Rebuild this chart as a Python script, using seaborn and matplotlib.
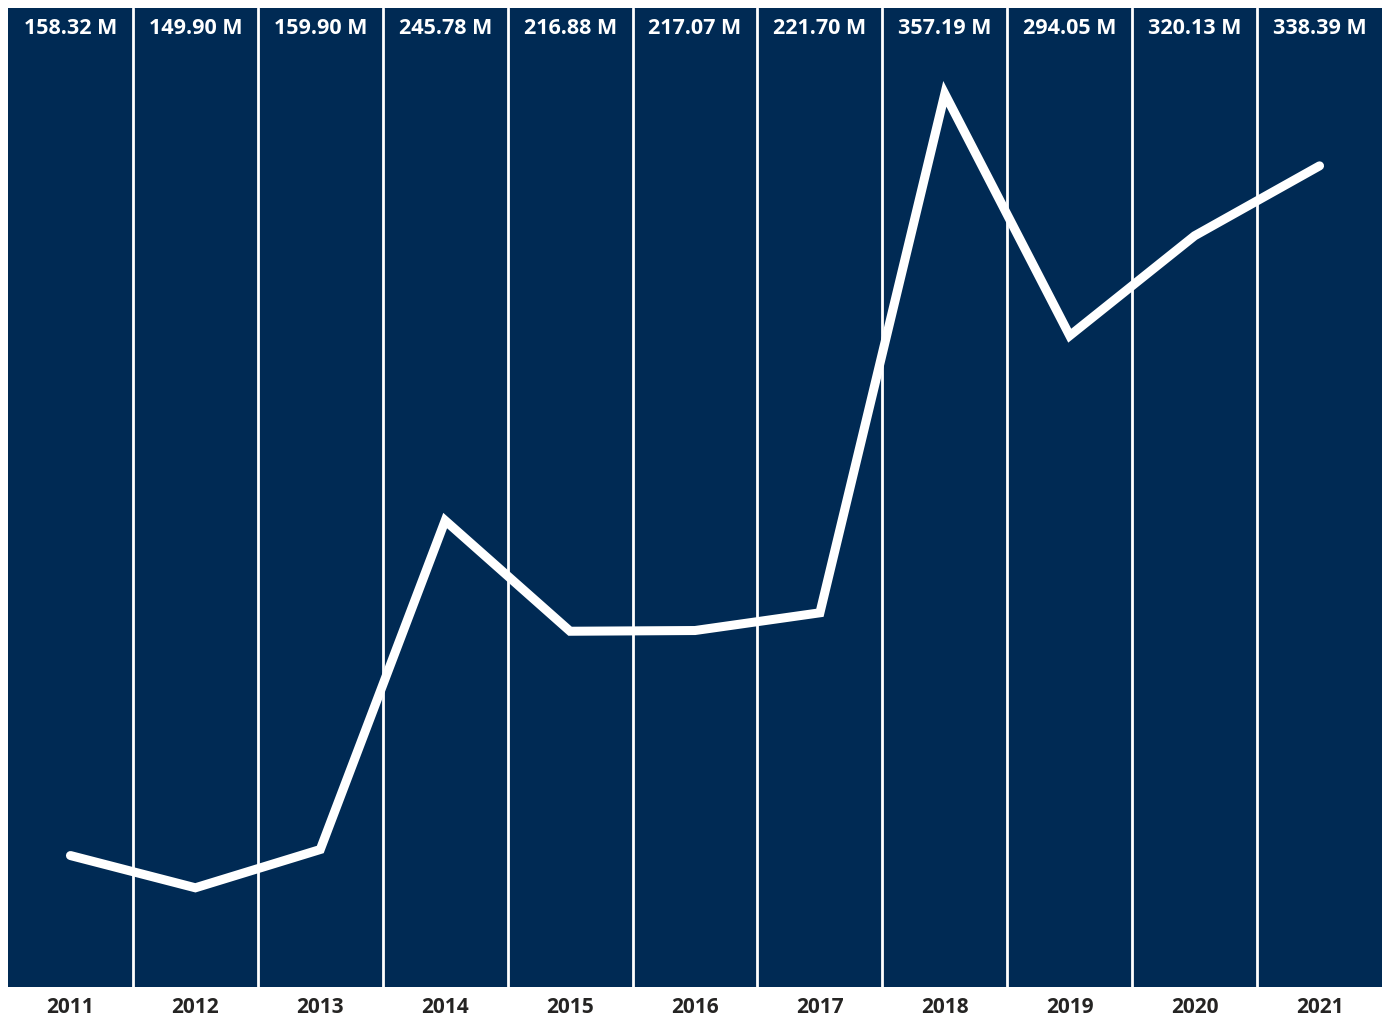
import matplotlib.pyplot as plt
import seaborn as sns
import pandas as pd

anos = ["2011", "2012", "2013", "2014", "2015", "2016", "2017", "2018", "2019", "2020", "2021"]
valores = [158.32, 149.90, 159.90, 245.78, 216.88, 217.07, 221.70, 357.19, 294.05, 320.13, 338.39]

df = pd.DataFrame({"Ano": anos, "Valor": valores})

navy = "#002A54"

sns.set_theme(style="white")
plt.rcParams["font.family"] = ["Open Sans", "DejaVu Sans"]

fig = plt.figure(figsize=(13.89, 10.19), dpi=100)
ax = fig.add_axes([8 / 1389, 32 / 1019, 1374 / 1389, 979 / 1019])
ax.set_facecolor(navy)

sns.lineplot(data=df, x="Ano", y="Valor", color="white", linewidth=6.5,
             solid_capstyle="round", solid_joinstyle="miter", ax=ax)

ax.set_xlim(-0.5, len(anos) - 0.5)
ax.set_ylim(124.0, 379.6)

# separadores brancos entre as colunas
for i in range(len(anos) - 1):
    ax.axvline(i + 0.5, color="white", linewidth=2.0, zorder=1)

# rótulos de valor no topo de cada coluna
for i, v in enumerate(valores):
    ax.text(i, 0.979, f"{v:.2f} M", transform=ax.get_xaxis_transform(),
            ha="center", va="center", color="white", fontsize=15.5, fontweight="bold")

ax.set_xticks(range(len(anos)))
ax.set_xticklabels(anos, fontsize=15, fontweight="bold", color="#252423")
ax.tick_params(axis="x", length=0, pad=7)
ax.set_yticks([])
ax.set_xlabel("")
ax.set_ylabel("")
for s in ax.spines.values():
    s.set_visible(False)

plt.savefig("out.png", dpi=100)
plt.close()
